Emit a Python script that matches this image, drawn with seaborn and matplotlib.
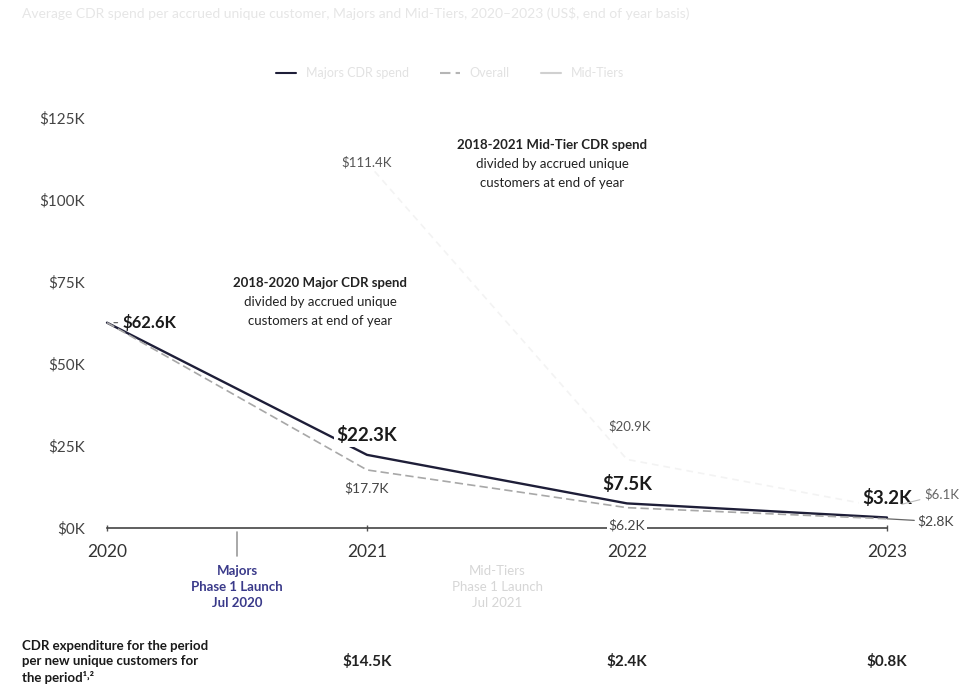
import matplotlib
matplotlib.use("Agg")
import matplotlib.pyplot as plt
import matplotlib.transforms as mtransforms
import seaborn as sns
import pandas as pd
import numpy as np

# ---- data (US$ thousands) ----
years = [2020, 2021, 2022, 2023]
majors = [62.6, 22.3, 7.5, 3.2]
overall = [62.6, 17.7, 6.2, 2.8]
mid_tiers = [np.nan, 111.4, 20.9, 6.1]
period_cost = [14.5, 2.4, 0.8]          # per new unique customer, 2021-2023
period_years = [2021, 2022, 2023]
y_ticks = [0, 25, 50, 75, 100, 125]
series_names = ["Majors CDR spend", "Overall", "Mid-Tiers"]

sns.set_theme(style="white")
plt.rcParams["font.family"] = ["Lato", "DejaVu Sans"]

df = pd.DataFrame({
    "year": years * 3,
    "value": majors + overall + mid_tiers,
    "series": [series_names[0]] * 4 + [series_names[1]] * 4 + [series_names[2]] * 4,
})

W, H = 964, 691
fig = plt.figure(figsize=(W / 100, H / 100), dpi=100)
ax = fig.add_axes([95 / W, 1 - 528 / H, (940 - 95) / W, (528 - 100) / H])

palette = {series_names[0]: "#1e1e38", series_names[1]: "#a8a8a8", series_names[2]: "#f3f3f3"}
dashes = {series_names[0]: "", series_names[1]: (5, 2.5), series_names[2]: (4, 3)}
sns.lineplot(data=df, x="year", y="value", hue="series", style="series",
             hue_order=series_names, style_order=series_names,
             palette=palette, dashes=dashes, ax=ax, zorder=3)
for line, lw in zip(ax.lines, [1.7, 1.2, 1.2]):
    line.set_clip_on(False)
    line.set_linewidth(lw)

ax.set_xlim(2020 - 12 / 260, 2023 + 53 / 260)
ax.set_ylim(0, 428 / 3.28)
ax.set_xlabel("")
ax.set_ylabel("")

# axes styling
for s in ["top", "right", "left"]:
    ax.spines[s].set_visible(False)
ax.spines["bottom"].set_bounds(2020, 2023)
ax.spines["bottom"].set_color("#444444")
ax.spines["bottom"].set_linewidth(1.2)
ax.spines["bottom"].set_zorder(2)

ax.set_yticks(y_ticks)
ax.set_yticklabels([f"${v}K" for v in y_ticks])
ax.tick_params(axis="y", length=0, pad=7, labelsize=11, labelcolor="#444444")
ax.set_xticks(years)
ax.set_xticklabels([str(y) for y in years])
ax.tick_params(axis="x", direction="inout", length=5, width=1, color="#555555",
               pad=9, labelsize=12.5, labelcolor="#333333", bottom=True)

# legend
leg = ax.legend(loc="center", bbox_to_anchor=(450 / W, 1 - 73 / H),
                bbox_transform=fig.transFigure, ncol=3, frameon=False,
                fontsize=9, handlelength=1.6, columnspacing=2.5)
for t in leg.get_texts():
    t.set_color("#e2e2e2")
handles = leg.legend_handles
handles[1].set_color("#b5b5b5")
handles[2].set_color("#d0d0d0")
handles[2].set_linestyle("-")

# title
fig.text(22 / W, 1 - 14 / H,
         "Average CDR spend per accrued unique customer, Majors and Mid-Tiers, 2020\u20132023 (US$, end of year basis)",
         fontsize=10, color="#e6e6e6", va="center", ha="left")

white = dict(boxstyle="square,pad=0.15", fc="white", ec="none")

# Majors values
ax.annotate(f"${majors[0]}K", xy=(years[0], majors[0]), xytext=(11, 0),
            textcoords="offset points", ha="left", va="center",
            fontsize=12, fontweight="bold", color="#1a1a1a", zorder=5,
            arrowprops=dict(arrowstyle="-", color="#555555", lw=0.8, shrinkA=1, shrinkB=5))
for x, v in zip(years[1:], majors[1:]):
    ax.annotate(f"${v}K", xy=(x, v), xytext=(0, 14), textcoords="offset points",
                ha="center", va="center", fontsize=13.5, fontweight="bold",
                color="#1a1a1a", bbox=white, zorder=5)

# Overall values
for x, v in zip(years[1:3], overall[1:3]):
    ax.annotate(f"${v}K", xy=(x, v), xytext=(0, -13), textcoords="offset points",
                ha="center", va="center", fontsize=10, color="#444444",
                bbox=white, zorder=5)
ax.annotate(f"${overall[3]}K", xy=(years[3], overall[3]), xytext=(22, -2),
            textcoords="offset points", ha="left", va="center", fontsize=10,
            color="#444444", zorder=5,
            arrowprops=dict(arrowstyle="-", color="#666666", lw=0.9, shrinkA=0, shrinkB=0))

# Mid-Tier values
ax.annotate(f"${mid_tiers[1]}K", xy=(years[1], mid_tiers[1]), xytext=(0, 0),
            textcoords="offset points", ha="center", va="center", fontsize=9.5,
            color="#555555", bbox=white, zorder=5)
ax.annotate(f"${mid_tiers[2]}K", xy=(years[2], mid_tiers[2]), xytext=(2, 24),
            textcoords="offset points", ha="center", va="center", fontsize=9.5,
            color="#555555", zorder=5)
ax.annotate(f"${mid_tiers[3]}K", xy=(years[3], mid_tiers[3]), xytext=(27, 10),
            textcoords="offset points", ha="left", va="center", fontsize=9.5,
            color="#666666", zorder=5,
            arrowprops=dict(arrowstyle="-", color="#bbbbbb", lw=0.8, shrinkA=1, shrinkB=11))

# explanatory notes
def note(x, y, lines, step):
    for i, txt in enumerate(lines):
        ax.text(x, y - i * step, txt, ha="center", va="center", fontsize=9.5,
                fontweight="bold" if i == 0 else "normal", color="#222222", zorder=4)

note(2020.819, 74.7, ["2018-2020 Major CDR spend", "divided by accrued unique",
                       "customers at end of year"], 5.8)
note(2021.712, 116.8, ["2018-2021 Mid-Tier CDR spend", "divided by accrued unique",
                        "customers at end of year"], 5.8)

# launch markers below the axis
trans = mtransforms.blended_transform_factory(ax.transData, ax.transAxes)
px = 1 / 428
ax.plot([2020.5, 2020.5], [-4 * px, -28 * px], transform=trans, color="#9a9a9a",
        lw=1.2, clip_on=False)
ax.text(2020.5, -37 * px, "Majors\nPhase 1 Launch\nJul 2020", transform=trans,
        ha="center", va="top", fontsize=9.5, fontweight="bold", color="#3a3a8a",
        linespacing=1.4)
ax.text(2021.5, -37 * px, "Mid-Tiers\nPhase 1 Launch\nJul 2021", transform=trans,
        ha="center", va="top", fontsize=9.5, color="#d6d6d6", linespacing=1.4)

# per-period cost row
for x, v in zip(period_years, period_cost):
    ax.text(x, -134 * px, f"${v}K", transform=trans, ha="center", va="center",
            fontsize=11, fontweight="bold", color="#222222")
fig.text(22 / W, 1 - 662 / H,
         "CDR expenditure for the period\nper new unique customers for\nthe period\u00b9\u02d2\u00b2",
         ha="left", va="center", fontsize=9.5, fontweight="bold", color="#1a1a1a",
         linespacing=1.3, family=["Lato", "DejaVu Sans"])

fig.savefig("out.png", dpi=100, facecolor="white")
